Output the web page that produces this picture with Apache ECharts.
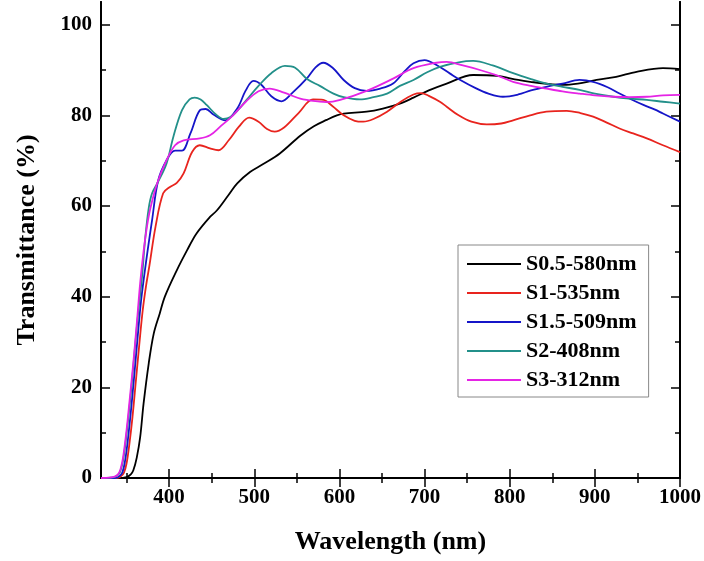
<!DOCTYPE html>
<html>
<head>
<meta charset="utf-8">
<script src="https://cdn.jsdelivr.net/npm/echarts@6/dist/echarts.min.js"></script>
<style>
html,body{margin:0;padding:0;background:#fff;}
#chart{width:704px;height:561px;}
</style>
</head>
<body>
<div id="chart"></div>
<script>
// ---- data (wavelength nm, transmittance %) ----
const seriesNames = ['S0.5-580nm', 'S1-535nm', 'S1.5-509nm', 'S2-408nm', 'S3-312nm'];

const S05 = [[320,0],[340,0],[350,0.2],[355,0.8],[358,1.7],[362,4.5],[366,9],[370,16.4],[376,25.2],[382,31.9],[389,36.3],[395,40],[409,45.8],[421,50.2],[432,53.9],[448,57.6],[456,59],[470,62.5],[480,65],[495,67.5],[510,69.2],[530,71.6],[554,75.5],[570,77.6],[585,79],[597,80],[605,80.4],[632,80.8],[651,81.5],[671,82.6],[687,83.9],[705,85.5],[726,87],[757,88.9],[785,88.7],[810,87.8],[824,87.4],[850,86.8],[863,86.7],[880,87],[902,87.8],[925,88.5],[949,89.6],[980,90.4],[1000,90.2]];

const S1 = [[320,0],[338,0],[343,0.3],[347,1.2],[350,3.2],[353,7],[357,13.5],[361,21.5],[365,29.5],[369,37],[373,42.5],[377,47],[384,55.4],[393,62.8],[401,64.2],[409,65.1],[417,67.2],[427,71.9],[436,73.4],[448,72.7],[458,72.3],[470,74.5],[482,77.5],[494,79.5],[505,78.6],[515,77],[524,76.4],[535,77.3],[552,80.5],[569,83.5],[581,83.4],[592,82],[605,80],[618,78.8],[628,78.6],[640,79.2],[656,80.8],[672,83],[687,84.6],[696,84.9],[705,84.3],[718,83],[726,81.9],[740,80],[755,78.6],[773,78],[790,78.2],[804,78.9],[824,80],[843,80.8],[867,81],[883,80.5],[898,79.7],[914,78.4],[929,77.1],[945,76],[961,74.9],[980,73.4],[1000,71.9]];

const S15 = [[320,0],[336,0],[341,0.3],[345,1.2],[348,3.5],[351,7.5],[355,14.5],[359,22.5],[363,31],[367,39],[371,45],[375,50.5],[380,56.9],[387,65.5],[397,70.1],[407,72.2],[415,72.2],[425,76],[436,81.1],[443,81.4],[452,80.2],[466,78.9],[480,81.5],[490,85.5],[499,87.6],[508,86.8],[520,84.2],[532,83.1],[545,85],[562,88.2],[572,90.6],[581,91.6],[592,90.5],[605,87.8],[618,86],[632,85.4],[648,85.9],[663,87],[677,89.8],[687,91.5],[700,92.2],[715,91],[730,89.2],[742,87.8],[760,86],[775,84.8],[792,84.1],[810,84.6],[825,85.5],[843,86.3],[862,87],[882,87.8],[898,87.4],[915,86.2],[929,84.8],[943,83.5],[957,82.3],[970,81.3],[980,80.4],[1000,78.6]];

const S2 = [[320,0],[332,0.1],[338,0.4],[342,1.2],[345,3],[348,6.5],[352,13],[356,20.5],[360,29],[364,37],[368,44],[372,53],[376,59.5],[380,62.8],[387,65.3],[397,69.4],[405,75.3],[415,81.1],[424,83.5],[430,83.9],[437,83.5],[444,82.3],[455,80.2],[464,79.2],[472,79.6],[480,81],[491,83.4],[505,86.5],[520,89.3],[536,90.9],[548,90.5],[562,88],[577,86.5],[593,84.8],[605,84],[624,83.5],[640,84],[656,84.8],[671,86.5],[687,87.8],[703,89.5],[718,90.7],[740,91.7],[757,92],[780,91],[804,89.3],[825,88],[843,87],[862,86.3],[882,85.6],[900,84.8],[922,84.1],[940,83.7],[961,83.4],[980,83],[1000,82.6]];

const S3 = [[320,0],[330,0.1],[336,0.3],[340,0.8],[343,2],[346,4.6],[350,10.5],[354,17.9],[358,25.5],[362,34],[366,43],[370,50],[374,55.5],[378,59.5],[386,65],[397,70.1],[407,73.4],[417,74.5],[436,74.9],[448,75.6],[460,77.5],[475,80],[490,83],[505,85.3],[518,85.9],[535,85],[554,83.7],[577,83],[585,82.9],[601,83.4],[632,85.4],[663,88.1],[687,90.4],[714,91.6],[726,91.8],[745,91],[765,90],[785,88.8],[804,87.4],[825,86.5],[843,85.9],[862,85.3],[882,84.8],[900,84.4],[922,84.1],[941,84],[961,84.1],[980,84.4],[1000,84.5]];

const xMajorTicks = [400, 500, 600, 700, 800, 900, 1000];
const xMinorTicks = [350, 450, 550, 650, 750, 850, 950];
const yMajorTicks = [0, 20, 40, 60, 80, 100];
const yMinorTicks = [10, 30, 50, 70, 90];

const colors = ['#000000', '#e8241e', '#1515c8', '#23908a', '#e524e5'];
const allData = [S05, S1, S15, S2, S3];

// ---- chart ----
const FONT = "'Liberation Serif', 'Times New Roman', serif";
const chart = echarts.init(document.getElementById('chart'), null, {renderer: 'canvas'});

const X_MIN = 320, X_MAX = 1000, Y_MIN = 0, Y_MAX = 105;
const lineBlk = {show: true, lineStyle: {color: '#000', width: 2}};
const plainFmt = v => String(v);

function mkAx(range, pos, ticks, len, labels, extra) {
  return Object.assign({
    type: 'value', position: pos, min: range[0], max: range[1],
    axisLine: lineBlk,
    axisTick: {show: true, inside: true, length: len, customValues: ticks, lineStyle: {color: '#000', width: 1.5}},
    axisLabel: labels ? {show: true, customValues: ticks, formatter: plainFmt, fontFamily: FONT, fontWeight: 'bold', fontSize: 21, color: '#000', margin: 9} : {show: false},
    splitLine: {show: false}
  }, extra || {});
}
const XR = [X_MIN, X_MAX], YR = [Y_MIN, Y_MAX];

const option = {
  backgroundColor: '#ffffff',
  animation: false,
  grid: {left: 101, right: 24, top: 2, bottom: 83, containLabel: false},
  legend: {
    orient: 'vertical',
    left: 458, top: 245,
    data: seriesNames,
    icon: 'rect',
    itemWidth: 54, itemHeight: 2, itemGap: 7,
    padding: [8, 12, 6, 9],
    borderColor: '#888', borderWidth: 1,
    backgroundColor: '#fff',
    textStyle: {fontFamily: FONT, fontWeight: 'bold', fontSize: 22, color: '#000', lineHeight: 22}
  },
  xAxis: [
    mkAx(XR, 'bottom', xMajorTicks, 9, true, {
      name: 'Wavelength (nm)', nameLocation: 'middle', nameGap: 51,
      nameTextStyle: {fontFamily: FONT, fontWeight: 'bold', fontSize: 26, color: '#000'}
    }),
    mkAx(XR, 'bottom', xMinorTicks, 5, false),
    mkAx(XR, 'top', xMajorTicks, 9, false),
    mkAx(XR, 'top', xMinorTicks, 5, false)
  ],
  yAxis: [
    mkAx(YR, 'left', yMajorTicks, 9, true, {
      name: 'Transmittance (%)', nameLocation: 'middle', nameGap: 61,
      nameTextStyle: {fontFamily: FONT, fontWeight: 'bold', fontSize: 26, color: '#000'}
    }),
    mkAx(YR, 'left', yMinorTicks, 5, false),
    mkAx(YR, 'right', yMajorTicks, 9, false),
    mkAx(YR, 'right', yMinorTicks, 5, false)
  ],
  series: seriesNames.map((name, i) => ({
    name: name,
    type: 'line',
    xAxisIndex: 0, yAxisIndex: 0,
    data: allData[i],
    showSymbol: false,
    symbol: 'none',
    smooth: 0.35,
    clip: true,
    color: colors[i],
    itemStyle: {color: colors[i]},
    lineStyle: {color: colors[i], width: 1.8},
    z: 2 + i
  }))
};
chart.setOption(option);
</script>
</body>
</html>
